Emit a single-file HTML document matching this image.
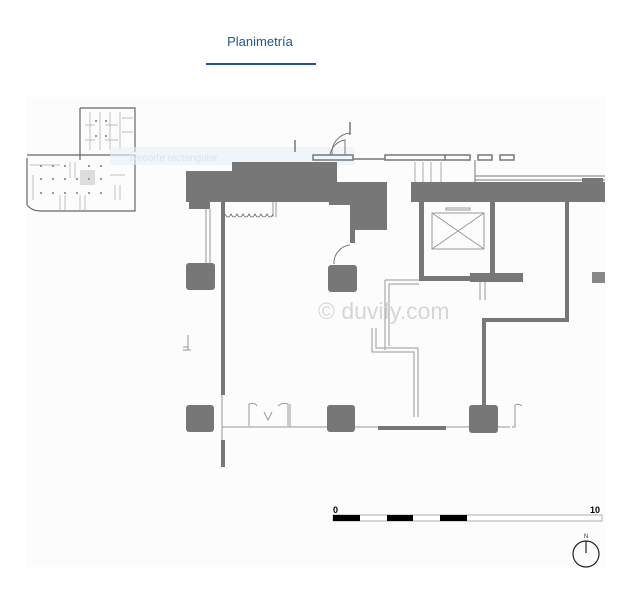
<!DOCTYPE html>
<html><head><meta charset="utf-8"><style>
html,body{margin:0;padding:0;background:#fff;width:635px;height:595px;overflow:hidden}
svg{position:absolute;left:0;top:0}
</style></head><body>
<svg width="635" height="595" viewBox="0 0 635 595" xmlns="http://www.w3.org/2000/svg">
<rect x="0" y="0" width="635" height="595" fill="#fff"/>
<text x="260" y="46" text-anchor="middle" font-family="Liberation Sans, sans-serif" font-size="13" fill="#1f5596">Planimetría</text>
<rect x="206" y="63" width="110" height="2" fill="#1f5596"/>
<rect x="27" y="97" width="578" height="470" fill="#fcfcfc"/>
<!-- thumbnail -->
<g fill="none" stroke="#666" stroke-width="1.2">
<path d="M80 108 H135 V152 M80 108 V160"/>
<path d="M27 155 H135 M27 158 V205 M27 205 Q32 211 40 211 H135 V155"/>
</g>
<g fill="none" stroke="#aaa" stroke-width="0.7">
<path d="M90 112 V150 M100 112 V150 M110 112 V150 M120 112 V150"/>
<path d="M85 125 H95 M85 140 H95 M105 125 H118 M105 140 H118 M122 118 H133 M122 132 H133"/>
<path d="M30 165 H60 M70 162 V178 M75 162 V178 M110 175 H125 M115 185 V200 M120 185 V200"/>
<path d="M33 175 V200 M60 195 V210 M65 195 V210 M80 195 V210 M85 195 V210"/>
</g>
<rect x="80" y="170" width="15" height="15" fill="#ddd"/>
<g fill="#999">
<rect x="40" y="178" width="2" height="2"/><rect x="52" y="178" width="2" height="2"/><rect x="64" y="178" width="2" height="2"/><rect x="76" y="178" width="2" height="2"/><rect x="88" y="178" width="2" height="2"/><rect x="100" y="178" width="2" height="2"/>
<rect x="40" y="192" width="2" height="2"/><rect x="52" y="192" width="2" height="2"/><rect x="64" y="192" width="2" height="2"/><rect x="76" y="192" width="2" height="2"/><rect x="88" y="192" width="2" height="2"/><rect x="100" y="192" width="2" height="2"/>
<rect x="40" y="165" width="2" height="2"/><rect x="52" y="165" width="2" height="2"/><rect x="64" y="165" width="2" height="2"/><rect x="88" y="165" width="2" height="2"/><rect x="100" y="165" width="2" height="2"/>
<rect x="95" y="120" width="2" height="2"/><rect x="95" y="135" width="2" height="2"/><rect x="105" y="120" width="2" height="2"/><rect x="105" y="135" width="2" height="2"/>
</g>
<rect x="110" y="147" width="245" height="18" fill="#e8f0fb" opacity="0.6"/>
<text x="130" y="161" font-family="Liberation Sans, sans-serif" font-size="10" fill="#dde3ee">Recorte rectangular</text>
<!-- top thin elements -->
<g fill="none" stroke="#777" stroke-width="1.5">
<rect x="313" y="155" width="40" height="5"/>
<rect x="385" y="155" width="85" height="5"/>
<line x1="445" y1="155" x2="445" y2="160"/>
<rect x="478" y="155" width="14" height="5"/>
<rect x="500" y="155" width="14" height="5"/>
<line x1="353" y1="159" x2="385" y2="159"/>
<line x1="295" y1="140" x2="295" y2="152"/>
<line x1="350" y1="122" x2="350" y2="135"/>
<path d="M330 155 A18 18 0 0 1 345 140 V155" stroke-width="1"/>
<path d="M332 155 A20 20 0 0 1 350 133" stroke-width="1"/>
<path d="M475 160 V182 M475 180 H605 M475 176 H605" stroke-width="1"/>
<path d="M415 162 V182 M423 162 V182 M431 162 V182 M441 162 V182" stroke-width="0.8" stroke="#999"/>
</g>
<!-- dark masses -->
<g fill="#777">
<rect x="232" y="162" width="105" height="10"/>
<rect x="186" y="171" width="151" height="31"/>
<rect x="189" y="202" width="21" height="7"/>
<rect x="329" y="182" width="58" height="23"/>
<rect x="350" y="182" width="37" height="48"/>
<rect x="350" y="230" width="5" height="13"/>
<rect x="411" y="182" width="194" height="20"/>
<rect x="582" y="178" width="21" height="5"/>
<rect x="419" y="202" width="5" height="79"/>
<rect x="490" y="202" width="5" height="79"/>
<rect x="419" y="276" width="76" height="5"/>
<rect x="470" y="273" width="53" height="9"/>
<rect x="592" y="272" width="13" height="11" fill="#888"/>
<rect x="565" y="202" width="4" height="120"/>
<rect x="482" y="318" width="87" height="4"/>
<rect x="482" y="318" width="4" height="90"/>
<rect x="221" y="202" width="4" height="193"/>
<rect x="221" y="440" width="4" height="27"/>
<rect x="378" y="426" width="68" height="4"/>
<rect x="186" y="263" width="29" height="27" rx="3"/>
<rect x="328" y="265" width="29" height="27" rx="3"/>
<rect x="186" y="405" width="28" height="27" rx="3"/>
<rect x="327" y="405" width="28" height="27" rx="3"/>
<rect x="469" y="405" width="29" height="28" rx="3"/>
</g>
<g fill="none" stroke="#999" stroke-width="1">
<rect x="432" y="213" width="52" height="36"/>
<path d="M432 213 L484 249 M484 213 L432 249"/>
<rect x="446" y="208" width="24" height="2"/>
<path d="M206 209 V263 M210 209 V263"/>
<path d="M385 280 V350 M389 284 V346 M385 280 H419 M389 284 H419"/>
<path d="M372 328 V352 H414 V417 M376 328 V348 H418 V417"/>
<path d="M480 282 V300 M485 282 V300"/>
<path d="M188 335 V350 M183 350 H191 M183 347 H188"/>
<path d="M222 395 V440 M222 427 H327 M355 427 H378 M446 427 H469 M498 427 H510"/>
<path d="M249 426 V404 Q255 402 257 406 M288 426 V404 Q282 402 278 406 M290 404 V427 M264 412 L268 420 L272 412"/>
<path d="M512 427 H515 V405 Q518 403 522 406"/>
<path d="M273 202 V217 M276 202 V217"/>
</g>
<path d="M225 214 q3 6 6 0 q3 6 6 0 q3 6 6 0 q3 6 6 0 q3 6 6 0 q3 6 6 0 q3 6 6 0 q3 6 6 0" fill="none" stroke="#555" stroke-width="0.8"/>
<path d="M334 264 A18 18 0 0 1 350 245" fill="none" stroke="#777" stroke-width="1"/>
<text x="318" y="319" font-family="Liberation Sans, sans-serif" font-size="23" fill="#d6d6d6">© duvify.com</text>
<rect x="333" y="515" width="269" height="6" fill="#fff" stroke="#999" stroke-width="0.8"/>
<rect x="333" y="515" width="27" height="6" fill="#000"/>
<rect x="387" y="515" width="26" height="6" fill="#000"/>
<rect x="440" y="515" width="27" height="6" fill="#000"/>
<text x="333" y="513" font-family="Liberation Sans, sans-serif" font-size="9" font-weight="bold" fill="#000">0</text>
<text x="590" y="513" font-family="Liberation Sans, sans-serif" font-size="9" font-weight="bold" fill="#000">10</text>
<circle cx="586" cy="554" r="13" fill="none" stroke="#222" stroke-width="1.2"/>
<line x1="586" y1="541" x2="586" y2="553" stroke="#222" stroke-width="1.2"/>
<text x="586" y="538" text-anchor="middle" font-family="Liberation Sans, sans-serif" font-size="6" fill="#333">N</text>
</svg>
</body></html>
